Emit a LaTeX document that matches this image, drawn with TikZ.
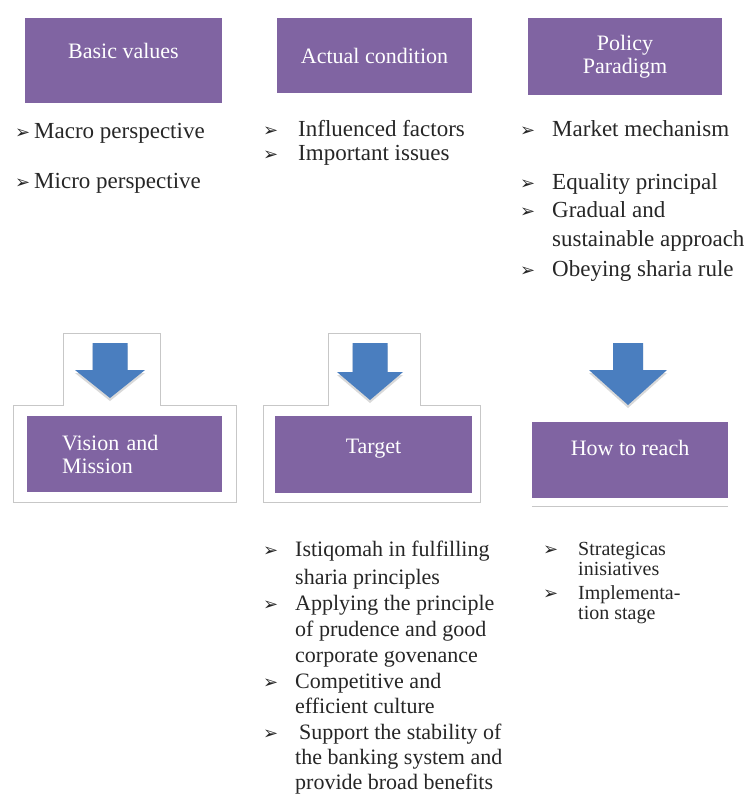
\documentclass[tikz,border=0pt]{standalone}
\usepackage{fontspec}
\setmainfont{Liberation Serif}
\newfontfamily\dingfont{DejaVu Sans}
\definecolor{SPpurple}{HTML}{8064A2}
\definecolor{SPblue}{HTML}{4A7EBF}
\tikzset{SPbox/.style={fill=SPpurple,text=white,font=\fontsize{22}{23}\selectfont,align=center,inner sep=0pt},
         SPlift/.style={text height=16pt,text depth=#1},
         SPitem/.style={anchor=base west,inner sep=0pt,text=black!85,font=\fontsize{23}{26}\selectfont},
         SPbul/.style={anchor=base west,inner sep=0pt,text=black!85,font=\dingfont\fontsize{18}{18}\selectfont},
         SPcall/.style={draw=black!22,line width=0.8pt}}

\begin{document}
\begin{tikzpicture}[x=1pt,y=-1pt]
  \useasboundingbox (0,0) rectangle (744,794);
  % frames round the first two arrows
  \draw[SPcall] (13,502) -- (13,405) -- (63,405) -- (63,333) -- (160,333) -- (160,405) -- (236,405) -- (236,502) -- cycle;
  \draw[SPcall] (263,502) -- (263,405) -- (328,405) -- (328,333) -- (420,333) -- (420,405) -- (480,405) -- (480,502) -- cycle;
  % block arrows
  \foreach \cx/\ya/\yb/\yc/\hs/\hh in {110/343/370/398/17.5/35,370/343/372/400/17.5/33,628/343/370/405/15/39}{
    \fill[black!15,yshift=-3pt] (\cx-\hs,\ya) -- (\cx+\hs,\ya) -- (\cx+\hs,\yb) -- (\cx+\hh,\yb) -- (\cx,\yc) -- (\cx-\hh,\yb) -- (\cx-\hs,\yb) -- cycle;
    \fill[SPblue] (\cx-\hs,\ya) -- (\cx+\hs,\ya) -- (\cx+\hs,\yb) -- (\cx+\hh,\yb) -- (\cx,\yc) -- (\cx-\hh,\yb) -- (\cx-\hs,\yb) -- cycle;
  }
  % boxes
  \node[SPbox,minimum width=197,minimum height=85,SPlift=19pt] (basic) at (123.5,60.5) {Basic values};
  \node[SPbox,minimum width=195,minimum height=75] (actual) at (374.5,55.5) {Actual condition};
  \node[SPbox,minimum width=194,minimum height=77] (policy) at (625,56.5) {Policy\\Paradigm};
  \node[SPbox,minimum width=195,minimum height=76,align=left,text width=125,inner xsep=35] (vision) at (124.5,454) {Vision and\\Mission};
  \node[SPbox,minimum width=197,minimum height=77,SPlift=19pt] (target) at (373.5,454.5) {Target};
  \node[SPbox,minimum width=196,minimum height=76,SPlift=26pt] (reach) at (630,460) {How to reach};
  \draw[SPcall] ([yshift=-8pt]reach.south west) -- ([yshift=-8pt]reach.south east);
  % lists
  \foreach \y/\t [count=\i] in {139/Macro perspective,189/Micro perspective}
    \node[SPitem] (bv\i) at (34,\y) {\t};
  \foreach \y/\t [count=\i] in {137/Influenced factors,161/Important issues}
    \node[SPitem] (ac\i) at (298,\y) {\t};
  \foreach \y/\t [count=\i] in {137/Market mechanism,190/Equality principal,218/Gradual and,247/sustainable approach,276/Obeying sharia rule}
    \node[SPitem] (pp\i) at (552,\y) {\t};
  \foreach \y/\t [count=\i] in {556/Istiqomah in fulfilling,584/sharia principles,610/Applying the principle,636/of prudence and good,
                                662/corporate govenance,688/Competitive and,713/efficient culture,739/\hspace*{4pt}Support the stability of,
                                764/the banking system and,789/provide broad benefits}
    \node[SPitem,font=\fontsize{22}{24}\selectfont] (tg\i) at (295,\y) {\t};
  \foreach \y/\t [count=\i] in {555/Strategicas,575/inisiatives,599/Implementa-,619/tion stage}
    \node[SPitem,font=\fontsize{20}{20}\selectfont] (hr\i) at (578,\y) {\t};
  % bullet marks
  \foreach \x/\y [count=\i] in {15/139,15/189,263/137,263/161,520/137,520/190,520/218,520/276,
                                263/556,263/610,263/688,263/739,543/555,543/599}
    \node[SPbul] (mk\i) at (\x,\y) {➢};
\end{tikzpicture}
\end{document}
